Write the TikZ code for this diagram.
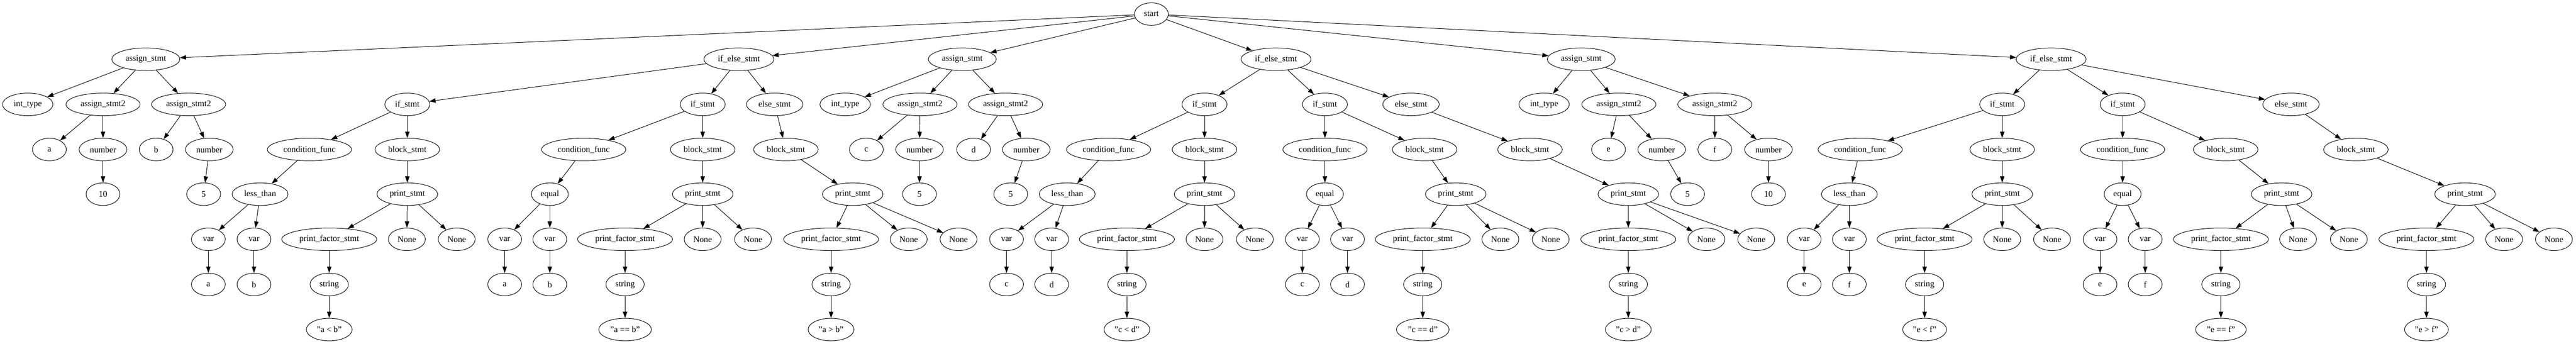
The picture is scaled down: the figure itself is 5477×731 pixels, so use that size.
\documentclass[tikz,border=0pt]{standalone}
\usepackage{fontspec}
\setmainfont{Liberation Serif}
\usetikzlibrary{shapes.geometric,arrows.meta}

\begin{document}
\begin{tikzpicture}[x=0.75pt,y=-0.75pt,
  nd/.style={ellipse,draw,line width=0.8pt,inner xsep=6pt,inner ysep=4pt,
    minimum width=54pt,minimum height=36pt,font=\fontsize{13.7pt}{16pt}\selectfont},
  edge/.style={-{Triangle[length=10pt,width=7pt]},line width=0.8pt}]
\def\rA{30}
\def\rB{126}
\def\rC{222}
\def\rD{318}
\def\rE{413}
\def\rF{509}
\def\rG{605}
\def\rH{701}
  \useasboundingbox (0,0) rectangle (5477,731);

  \node[nd] (start) at (2448,\rA) {start};
  \foreach \nm/\xx/\lbl in {asA/310/assign\_stmt, ieB/1571/if\_else\_stmt,
      asC/2046/assign\_stmt, ieD/2713/if\_else\_stmt,
      asE/3362/assign\_stmt, ieF/4361/if\_else\_stmt}
    \node[nd] (\nm) at (\xx,\rB) {\lbl};
  \foreach \nm/\xx/\lbl in {tyA/59/int\_type, sa1A/219/assign\_stmt2, sa2A/401/assign\_stmt2,
      if1B/866/if\_stmt, if2B/1494/if\_stmt, elB/1647/else\_stmt,
      tyC/1797/int\_type, sa1C/1956/assign\_stmt2, sa2C/2138/assign\_stmt2,
      if1D/2561/if\_stmt, if2D/2817/if\_stmt, elD/3000/else\_stmt,
      tyE/3283/int\_type, sa1E/3442/assign\_stmt2, sa2E/3646/assign\_stmt2,
      if1F/4257/if\_stmt, if2F/4513/if\_stmt, elF/4871/else\_stmt}
    \node[nd] (\nm) at (\xx,\rC) {\lbl};
  \foreach \nm/\xx/\lbl in {id1A/105/a, nm1A/219/number, id2A/332/b, nm2A/445/number,
      cf1B/658/condition\_func, bk1B/866/block\_stmt, cf2B/1241/condition\_func,
      bk2B/1494/block\_stmt, bk3B/1671/block\_stmt,
      id1C/1842/c, nm1C/1955/number, id2C/2070/d, nm2C/2182/number,
      cf1D/2357/condition\_func, bk1D/2561/block\_stmt, cf2D/2817/condition\_func,
      bk2D/3029/block\_stmt, bk3D/3253/block\_stmt,
      id1E/3420/e, nm1E/3533/number, id2E/3646/f, nm2E/3760/number,
      cf1F/3955/condition\_func, bk1F/4257/block\_stmt, cf2F/4513/condition\_func,
      bk2F/4732/block\_stmt, bk3F/5009/block\_stmt}
    \node[nd] (\nm) at (\xx,\rD) {\lbl};
  \foreach \nm/\xx/\lbl in {vl1A/219/10, vl2A/433/5,
      op1B/553/less\_than, pr1B/866/print\_stmt, op2B/1169/equal,
      pr2B/1494/print\_stmt, pr3B/1813/print\_stmt,
      vl1C/1955/5, vl2C/2149/5,
      op1D/2269/less\_than, pr1D/2561/print\_stmt, op2D/2817/equal,
      pr2D/3095/print\_stmt, pr3D/3462/print\_stmt,
      vl1E/3588/5, vl2E/3760/10,
      op1F/3932/less\_than, pr1F/4257/print\_stmt, op2F/4513/equal,
      pr2F/4851/print\_stmt, pr3F/5241/print\_stmt}
    \node[nd] (\nm) at (\xx,\rE) {\lbl};
  \foreach \nm/\xx/\lbl in {1aB/443/a, 1bB/540/b, 2aB/1073/a, 2bB/1169/b,
      1aD/2140/c, 1bD/2236/d, 2aD/2769/c, 2bD/2865/d,
      1aF/3836/e, 1bF/3932/f, 2aF/4465/e, 2bF/4561/f} {
    \node[nd] (vr\nm) at (\xx,\rF) {var};
    \node[nd] (lf\nm) at (\xx,\rG) {\lbl};
  }
  \foreach \nm/\xx/\lbl in {1B/700/"a < b", 2B/1329/"a == b", 3B/1767/"a > b",
      1D/2396/"c < d", 2D/3025/"c == d", 3D/3462/"c > d",
      1F/4092/"e < f", 2F/4722/"e == f", 3F/5159/"e > f"} {
    \node[nd] (pf\nm) at (\xx,\rF) {print\_factor\_stmt};
    \node[nd] (st\nm) at (\xx,\rG) {string};
    \node[nd] (tx\nm) at (\xx,\rH) {\lbl};
  }
  \foreach \nm/\xa/\xb in {1B/865/971, 2B/1494/1601, 3B/1932/2038,
      1D/2561/2668, 2D/3190/3297, 3D/3628/3734,
      1F/4257/4363, 2F/4886/4994, 3F/5324/5430} {
    \node[nd] (na\nm) at (\xa,\rF) {None};
    \node[nd] (nb\nm) at (\xb,\rF) {None};
  }

  \foreach \c in {asA,ieB,asC,ieD,asE,ieF}
    \draw[edge] (start) -- (\c);
  \foreach \s in {A,C,E}
    \foreach \p/\c in {as/ty, as/sa1, as/sa2, sa1/id1, sa1/nm1, nm1/vl1,
        sa2/id2, sa2/nm2, nm2/vl2}
      \draw[edge] (\p\s) -- (\c\s);
  \foreach \s in {B,D,F}
    \foreach \p/\c in {ie/if1, ie/if2, ie/el, if1/cf1, if1/bk1, if2/cf2, if2/bk2,
        el/bk3, cf1/op1, cf2/op2, op1/vr1a, op1/vr1b, op2/vr2a, op2/vr2b,
        vr1a/lf1a, vr1b/lf1b, vr2a/lf2a, vr2b/lf2b,
        bk1/pr1, bk2/pr2, bk3/pr3, pr1/pf1, pr1/na1, pr1/nb1,
        pr2/pf2, pr2/na2, pr2/nb2, pr3/pf3, pr3/na3, pr3/nb3,
        pf1/st1, pf2/st2, pf3/st3, st1/tx1, st2/tx2, st3/tx3}
      \draw[edge] (\p\s) -- (\c\s);
\end{tikzpicture}
\end{document}
